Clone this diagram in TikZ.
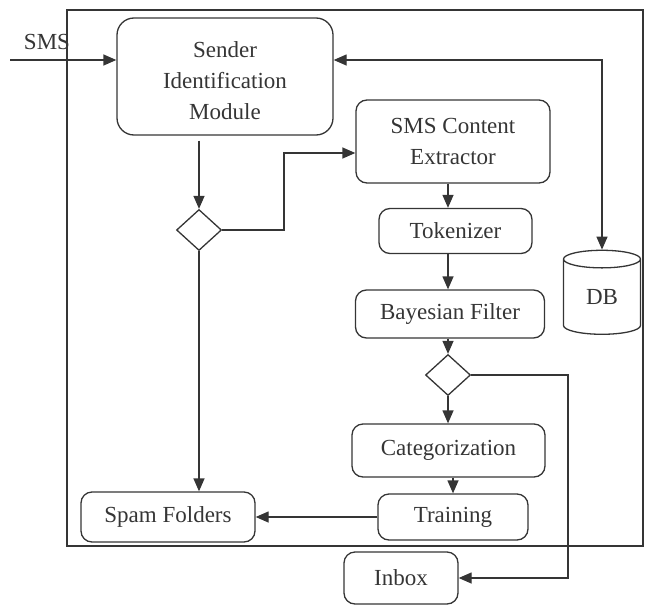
\documentclass[tikz,border=0pt]{standalone}
\usepackage{fontspec}
\setmainfont{Liberation Serif}
\usepackage{tikz}
\usetikzlibrary{arrows.meta,positioning,calc,shapes.geometric}

\definecolor{ink}{HTML}{353535}

\begin{document}
\begin{tikzpicture}[x=1pt, y=-1pt, line width=1.3pt, draw=ink, text=ink,
    font=\fontsize{23}{31}\selectfont,
    box/.style={draw, rounded corners=11pt, align=center, inner sep=0pt},
    decide/.style={draw, diamond, minimum width=45pt, minimum height=41pt, inner sep=0pt},
    flow/.style={-{Triangle[length=13pt, width=11pt]}},
    flowboth/.style={{Triangle[length=13pt, width=11pt]}-{Triangle[length=13pt, width=11pt]}}]
  \useasboundingbox (0,0) rectangle (650,605);
  % outer frame
  \draw (67,10) rectangle (643,546);

  % blocks
  \node[box, rounded corners=17pt, minimum width=216pt, minimum height=117pt] (sender) at (225,76.5) {\rule{0pt}{24pt}Sender\\Identification\\Module};
  \node[box, minimum width=194pt, minimum height=83pt] (content) at (453,141.5) {SMS Content\\Extractor};
  \node[box, minimum width=153pt, minimum height=45pt] (token) at (455.5,231) {Tokenizer};
  \node[box, minimum width=189pt, minimum height=48pt] (bayes) at (450,314) {Bayesian Filter};
  \node[box, minimum width=193pt, minimum height=53pt] (categ) at (448.5,450.5) {Categorization};
  \node[box, minimum width=150pt, minimum height=46pt] (train) at (453,517) {Training};
  \node[box, minimum width=174pt, minimum height=50pt] (spam) at (168,517) {Spam Folders};
  \node[box, minimum width=114pt, minimum height=52pt] (inbox) at (401,578) {Inbox};
  \node[draw, cylinder, shape border rotate=90, aspect=0.55, minimum width=77pt, minimum height=84pt, inner sep=0pt] (db) at (602,297) {DB};

  % decisions
  \node[decide] (dec1) at (199,230) {};
  \node[decide] (dec2) at (448,375) {};

  % input
  \coordinate (smsin) at (10,60);
  \node (smslbl) at (47,42) {SMS};
  \draw[flow] (smsin) -- (sender.west |- smsin);

  % main path
  \draw[flow] (sender.south -| dec1) ++(0,5) -- (dec1.north);
  \draw[flow] (dec1.east) -- (284,230) |- ([yshift=-11.5pt]content.west);
  \draw[flow] (content.south -| dec2) -- (token.north -| dec2);
  \draw[flow] (token.south -| dec2) -- (bayes.north -| dec2);
  \draw[flow] (bayes.south -| dec2) -- (dec2.north);
  \draw[flow] (dec2.south) -- (categ.north -| dec2);
  \draw[flow] (categ.south -| train) -- (train.north);
  \draw[flow] (train.west) -- (spam.east);
  \draw[flow] (dec1.south) -- (dec1.south |- spam.north);
  \draw[flow] (dec2.east) -- (568,375) |- (inbox.east);

  % database link
  \draw[flowboth] (sender.east |- smsin) -| (db.north);
\end{tikzpicture}
\end{document}
